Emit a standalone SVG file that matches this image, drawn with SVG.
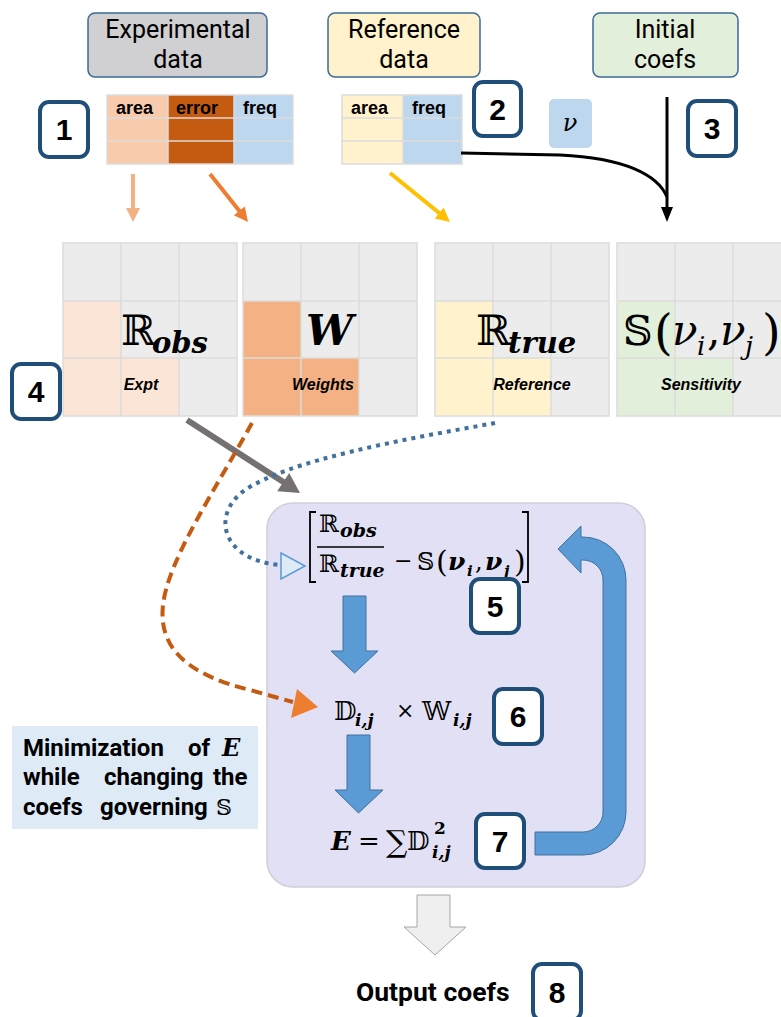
<svg xmlns="http://www.w3.org/2000/svg" width="781" height="1017" viewBox="0 0 781 1017">
<defs>
<style>
.hdr{fill:#000;font-family:Roboto,"Liberation Sans",sans-serif;font-size:25px;text-anchor:middle}
.topbox{stroke:#3d6a96;stroke-width:1.5}
.badge rect{fill:#fff;stroke:#1f4e79;stroke-width:4}
.badge text{font-family:"Liberation Sans",Arial,sans-serif;font-weight:bold;font-size:30px;text-anchor:middle;fill:#000}
.th{font-family:"Liberation Sans",Arial,sans-serif;font-weight:bold;font-size:18px;fill:#000}
.gl{stroke:#dcdcdc;stroke-width:1.5;fill:none}
.m{font-family:"DejaVu Serif",serif;fill:#000}
.bi{font-family:"DejaVu Serif",serif;font-weight:bold;font-style:italic;fill:#000}
.it{font-family:"DejaVu Serif",serif;font-style:italic;fill:#000}
.lab{font-family:"Liberation Sans",Arial,sans-serif;font-weight:bold;font-style:italic;font-size:16px;text-anchor:middle;fill:#000}
.barrow{fill:#5b9bd5;stroke:#41719c;stroke-width:1}
.txt{font-family:Roboto,"Liberation Sans",sans-serif;font-weight:bold;fill:#000}
</style>
</defs>

<!-- top header boxes -->
<g id="exp-data">
<rect class="topbox" x="88" y="13" width="179" height="64" rx="7" fill="#d0cfd1"/>
<text class="hdr" x="178" y="38">Experimental</text>
<text class="hdr" x="178" y="68">data</text>
</g>
<g id="ref-data">
<rect class="topbox" x="328" y="13" width="152" height="64" rx="7" fill="#fff2cc"/>
<text class="hdr" x="404" y="38">Reference</text>
<text class="hdr" x="404" y="68">data</text>
</g>
<g id="init-coefs">
<rect class="topbox" x="593" y="13" width="145" height="64" rx="7" fill="#e2efda"/>
<text class="hdr" x="665" y="38">Initial</text>
<text class="hdr" x="665" y="68">coefs</text>
</g>

<!-- table 1 -->
<g id="table-exp">
<rect x="107" y="95" width="61" height="69" fill="#f8cbad"/>
<rect x="168" y="95" width="66" height="69" fill="#c55a11"/>
<rect x="234" y="95" width="59" height="69" fill="#bdd7ee"/>
<rect class="gl" x="107" y="95" width="186" height="69"/>
<path class="gl" d="M168,95V164M234,95V164M107,118H293M107,141H293"/>
<text class="th" x="116" y="114">area</text>
<text class="th" x="176" y="114">error</text>
<text class="th" x="243" y="114">freq</text>
</g>

<!-- table 2 -->
<g id="table-ref">
<rect x="342" y="95" width="61" height="69" fill="#fff2cc"/>
<rect x="403" y="95" width="59" height="69" fill="#bdd7ee"/>
<rect class="gl" x="342" y="95" width="120" height="69"/>
<path class="gl" d="M403,95V164M342,118H462M342,141H462"/>
<text class="th" x="351" y="114">area</text>
<text class="th" x="412" y="114">freq</text>
</g>

<g id="nu">
<rect x="549" y="99" width="43" height="49" rx="5" fill="#bdd7ee"/>
<text class="it" x="570" y="131" font-size="24" text-anchor="middle">ν</text>
</g>

<!-- grids -->
<g id="grid-obs">
<rect x="63" y="243" width="174" height="173" fill="#ececec"/>
<rect x="63" y="301" width="58" height="115" fill="#fbe5d6"/>
<rect x="121" y="358" width="58" height="58" fill="#fbe5d6"/>
<rect class="gl" x="63" y="243" width="174" height="173"/>
<path class="gl" d="M121,243V416M179,243V416M63,301H237M63,358H237"/>
<text class="m" x="121" y="345" font-size="42">ℝ</text>
<text class="bi" x="152" y="353" font-size="29">obs</text>
<text class="lab" x="141" y="390">Expt</text>
</g>
<g id="grid-w">
<rect x="243" y="243" width="174" height="173" fill="#ececec"/>
<rect x="243" y="301" width="58" height="115" fill="#f4b183"/>
<rect x="301" y="358" width="58" height="58" fill="#f4b183"/>
<rect class="gl" x="243" y="243" width="174" height="173"/>
<path class="gl" d="M301,243V416M359,243V416M243,301H417M243,358H417"/>
<text class="bi" x="306" y="345" font-size="42">W</text>
<text class="lab" x="323" y="390">Weights</text>
</g>
<g id="grid-true">
<rect x="435" y="243" width="174" height="173" fill="#ececec"/>
<rect x="435" y="301" width="58" height="115" fill="#fff2cc"/>
<rect x="493" y="358" width="58" height="58" fill="#fff2cc"/>
<rect class="gl" x="435" y="243" width="174" height="173"/>
<path class="gl" d="M493,243V416M551,243V416M435,301H609M435,358H609"/>
<text class="m" x="476" y="345" font-size="42">ℝ</text>
<text class="bi" x="508" y="353" font-size="29">true</text>
<text class="lab" x="532" y="390">Reference</text>
</g>
<g id="grid-sens">
<rect x="617" y="243" width="174" height="173" fill="#ececec"/>
<rect x="617" y="301" width="58" height="115" fill="#e2efda"/>
<rect x="675" y="358" width="58" height="58" fill="#e2efda"/>
<rect class="gl" x="617" y="243" width="174" height="173"/>
<path class="gl" d="M675,243V416M733,243V416M617,301H791M617,358H791"/>
<text class="m" x="623" y="345" font-size="41">𝕊</text>
<text class="m" x="654" y="349" font-size="48">(</text>
<text class="it" x="672" y="345" font-size="42">ν</text>
<text class="it" x="697" y="355" font-size="26">i</text>
<text class="m" x="707" y="345" font-size="42">,</text>
<text class="it" x="720" y="345" font-size="42">ν</text>
<text class="it" x="745" y="355" font-size="26">j</text>
<text class="m" x="762" y="349" font-size="48">)</text>
<text class="lab" x="701" y="390">Sensitivity</text>
</g>

<!-- main loop box -->
<g id="loop-box">
<rect x="267" y="503" width="378" height="384" rx="26" fill="#e2e0f4" stroke="#cfcfd8" stroke-width="1.5"/>
</g>

<g id="min-note">
<rect x="12" y="726" width="246" height="103" fill="#deebf7"/>
<text class="txt" font-size="24" y="756"><tspan x="23">Minimization</tspan><tspan x="188">of</tspan><tspan x="222" class="bi" font-size="24">E</tspan></text>
<text class="txt" font-size="24" y="785"><tspan x="23">while</tspan><tspan x="104">changing</tspan><tspan x="213">the</tspan></text>
<text class="txt" font-size="24" y="815"><tspan x="23">coefs</tspan><tspan x="100">governing</tspan><tspan x="216" class="m" font-weight="normal" font-size="22">𝕊</tspan></text>
</g>

<!-- formula 5 -->
<g id="eq-ratio">
<path d="M316,512H310V582H316M522,512H528V582H522" fill="none" stroke="#000" stroke-width="1.8"/>
<text class="m" x="319" y="532" font-size="24">ℝ</text>
<text class="bi" x="340" y="537" font-size="19">obs</text>
<line x1="317" y1="547" x2="384" y2="547" stroke="#000" stroke-width="1.3"/>
<text class="m" x="319" y="572" font-size="24">ℝ</text>
<text class="bi" x="340" y="577" font-size="19">true</text>
<text class="m" x="394" y="568" font-size="22">−</text>
<text class="m" x="417" y="570" font-size="24">𝕊</text>
<text class="m" x="436" y="572" font-size="30">(</text>
<text class="bi" x="448" y="570" font-size="25">ν</text>
<text class="bi" x="467" y="576" font-size="15">i</text>
<text class="m" x="475" y="570" font-size="24">,</text>
<text class="bi" x="485" y="570" font-size="25">ν</text>
<text class="bi" x="504" y="576" font-size="15">j</text>
<text class="m" x="514" y="572" font-size="30">)</text>
</g>

<g id="eq-weighted">
<text class="m" x="334" y="720" font-size="26">𝔻</text>
<text class="bi" x="355" y="726" font-size="17">i,j</text>
<text class="m" x="396" y="718" font-size="22">×</text>
<text class="m" x="422" y="720" font-size="26">𝕎</text>
<text class="bi" x="453" y="726" font-size="17">i,j</text>
</g>

<g id="eq-sum">
<text class="bi" x="331" y="850" font-size="26">E</text>
<text class="m" x="358" y="850" font-size="26">=</text>
<text class="m" x="386" y="852" font-size="30">∑</text>
<text class="m" x="407" y="850" font-size="26">𝔻</text>
<text class="m" x="434" y="834" font-size="17" font-weight="bold">2</text>
<text class="bi" x="432" y="858" font-size="17">i,j</text>
</g>

<g id="output">
<text class="txt" x="356" y="1001" font-size="26.5">Output coefs</text>
</g>

<!-- badges -->
<g id="badge-1" class="badge"><rect x="40" y="102" width="48" height="55" rx="9"/><text x="64" y="140">1</text></g>
<g id="badge-2" class="badge"><rect x="474" y="82" width="47" height="54" rx="9"/><text x="497.5" y="120">2</text></g>
<g id="badge-3" class="badge"><rect x="688" y="101" width="48" height="55" rx="9"/><text x="712" y="139">3</text></g>
<g id="badge-4" class="badge"><rect x="12" y="364" width="48" height="55" rx="9"/><text x="36" y="402">4</text></g>
<g id="badge-5" class="badge"><rect x="471" y="579" width="48" height="54" rx="9"/><text x="495" y="617">5</text></g>
<g id="badge-6" class="badge"><rect x="494" y="689" width="48" height="55" rx="9"/><text x="518" y="727">6</text></g>
<g id="badge-7" class="badge"><rect x="476" y="814" width="48" height="54" rx="9"/><text x="500" y="852">7</text></g>
<g id="badge-8" class="badge"><rect x="533" y="964" width="48" height="56" rx="9"/><text x="557" y="1003">8</text></g>

<!-- connectors -->
<g id="connectors">
<line x1="133" y1="174" x2="133" y2="210" stroke="#f4b183" stroke-width="4"/>
<polygon points="126,208 140,208 133,222" fill="#f4b183"/>
<line x1="210" y1="174" x2="241" y2="213" stroke="#ed7d31" stroke-width="4"/>
<polygon points="233.8,215.3 244.8,206.6 248,222" fill="#ed7d31"/>
<line x1="390" y1="173" x2="441" y2="214.5" stroke="#ffc000" stroke-width="4"/>
<polygon points="434.8,218.6 443.6,207.8 450,222" fill="#ffc000"/>
<line x1="667" y1="97" x2="667" y2="208" stroke="#000" stroke-width="3"/>
<path d="M461,153 L560,155 C625,158 658,175 667,197" fill="none" stroke="#000" stroke-width="3"/>
<polygon points="661,207 673,207 667,222" fill="#000"/>
<line x1="187" y1="420" x2="285" y2="483" stroke="#767171" stroke-width="6"/>
<polygon points="277.2,491.3 289.2,472.9 300,493" fill="#767171"/>
<path d="M252,423 C215,490 168,560 163,605 C158,650 190,675 250,690 L293,702" fill="none" stroke="#c55a11" stroke-width="4" stroke-dasharray="11,6"/>
<polygon points="297,689 318,707 291,718" fill="#ed7d31"/>
<path d="M495,423 C400,440 290,460 245,490 C210,515 222,560 280,565" fill="none" stroke="#41719c" stroke-width="4" stroke-dasharray="4,5"/>
<polygon points="281,553 305,566 281,579" fill="#deebf7" stroke="#5b9bd5" stroke-width="1.5"/>
<polygon class="barrow" points="343,596 366,596 366,651 378,651 354.5,673 331,651 343,651"/>
<polygon class="barrow" points="347,735 370,735 370,790 383,790 358.5,813 335,790 347,790"/>
<path class="barrow" d="M535,832 L583,832 A20,20 0 0 0 603,812 L603,580 A20,20 0 0 0 583,560 L581,560 L581,573 L558,549 L581,526 L581,537 L583,537 A43,43 0 0 1 626,580 L626,812 A43,43 0 0 1 583,855 L535,855 Z"/>
<polygon points="417,895 450,895 450,927 466,927 435,955 404,927 417,927" fill="#efefef" stroke="#a6a6a6" stroke-width="1"/>
</g>
</svg>
